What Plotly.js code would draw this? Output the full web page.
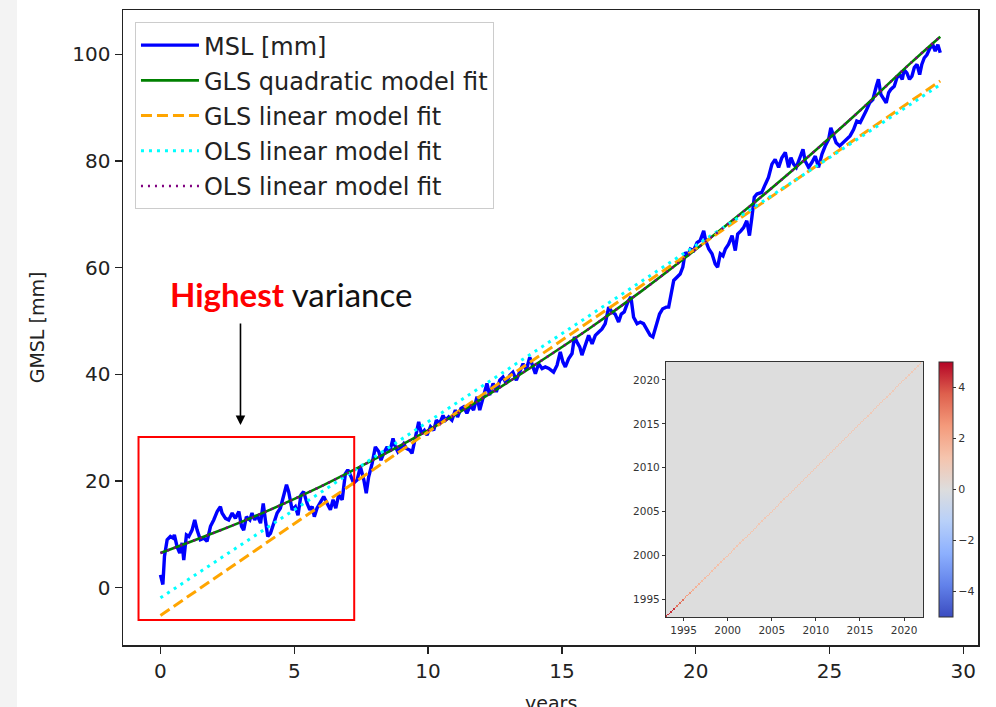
<!DOCTYPE html>
<html>
<head>
<meta charset="utf-8">
<script src="https://cdn.plot.ly/plotly-3.0.1.min.js"></script>
<style>
  html, body { margin: 0; padding: 0; background: #ffffff; }
  #wrap { position: relative; width: 996px; height: 707px; overflow: hidden; }
  #chart { position: absolute; left: 0; top: 0; width: 996px; height: 707px; }
  #strip { position: absolute; left: 0; top: 0; width: 17px; height: 707px; background: #f3f3f3; pointer-events: none; }
</style>
</head>
<body>
<div id="wrap">
  <div id="chart"></div>
  <div id="strip"></div>
</div>
<script>
// ---------- DATA ----------
const mslT = [0.00,0.09,0.15,0.25,0.37,0.47,0.52,0.62,0.72,0.81,0.87,0.97,1.06,1.18,1.28,1.37,1.49,1.62,1.74,1.87,
  1.99,2.12,2.24,2.30,2.43,2.55,2.68,2.80,2.93,3.03,3.11,3.21,3.34,3.42,3.52,3.61,3.74,3.84,3.92,4.01,
  4.11,4.23,4.36,4.48,4.61,4.71,4.79,4.92,5.04,5.14,5.25,5.35,5.48,5.58,5.67,5.75,5.85,5.98,6.10,6.23,
  6.35,6.45,6.55,6.66,6.79,6.91,7.00,7.10,
  7.22,7.35,7.47,7.60,7.69,7.78,7.91,8.03,8.16,8.24,8.34,8.47,8.57,8.69,8.78,8.87,8.97,9.09,9.19,9.31,
  9.40,9.53,9.65,9.75,9.86,9.96,10.09,10.21,10.31,10.43,10.56,10.65,10.77,10.89,11.02,11.10,11.23,11.33,11.45,11.58,
  11.70,11.83,11.93,12.05,12.20,12.30,12.43,12.55,12.68,12.80,12.92,13.05,13.17,13.30,13.42,13.55,13.67,13.80,13.92,14.01,
  14.13,14.26,14.38,14.51,
  14.69,14.82,14.94,15.04,15.13,15.25,15.38,15.47,15.57,15.67,15.75,15.88,16.00,16.13,16.25,16.37,16.50,16.62,16.75,16.87,
  16.99,17.12,17.22,17.33,17.46,17.58,17.68,17.81,17.93,18.05,18.18,18.30,18.40,18.53,18.65,18.77,18.90,18.99,19.08,19.18,
  19.30,19.42,19.52,19.61,19.70,19.80,19.92,20.05,20.17,20.30,20.37,20.49,20.61,20.73,20.82,20.92,21.02,21.11,21.23,21.36,
  21.48,21.57,21.69,21.79,21.91,22.01,22.10,22.19,22.29,
  22.47,22.60,22.72,22.85,22.97,23.10,23.22,23.35,23.47,23.56,23.66,23.76,23.88,24.01,24.09,24.22,24.34,24.47,24.59,24.72,
  24.84,24.97,25.05,25.15,25.25,25.38,25.50,25.65,25.77,25.90,26.02,26.15,26.25,26.37,26.50,26.62,26.75,26.83,26.92,27.02,
  27.12,27.21,27.29,27.42,27.52,27.62,27.72,27.79,27.89,27.99,28.08,28.17,28.27,28.37,28.45,28.54,28.64,28.76,28.86,28.95,
  29.05,29.14];

const mslMm = [2.4,0.6,5.9,9.0,9.6,9.3,9.9,7.7,6.5,8.4,5.2,9.9,9.6,10.8,12.7,10.8,9.0,9.3,8.7,11.5,
  12.7,14.3,15.2,14.0,13.0,12.7,14.0,13.0,14.3,11.5,10.8,13.3,12.7,14.0,12.7,13.6,12.1,15.8,12.7,9.6,
  10.2,12.1,14.0,14.9,17.7,19.3,18.0,14.6,15.2,13.6,17.4,18.0,15.8,14.6,15.2,13.3,14.9,16.1,17.1,15.8,
  14.6,16.5,14.9,17.4,16.5,21.4,22.1,21.1,
  19.6,20.2,22.7,20.2,17.7,20.8,23.3,26.4,25.5,23.9,25.2,26.4,25.5,28.0,26.4,25.5,26.1,27.0,26.1,25.8,
  25.2,28.3,31.1,28.9,29.5,28.6,30.2,29.5,31.4,30.8,32.3,31.4,32.0,31.4,33.3,32.0,33.6,33.9,32.7,34.2,
  33.3,35.8,33.3,35.5,38.3,36.1,38.3,36.7,38.9,39.5,38.3,39.8,40.4,38.9,40.4,42.0,40.8,43.2,41.4,40.1,
  42.0,41.1,41.4,41.1,
  40.4,41.7,44.2,42.3,41.4,42.9,43.9,47.0,46.0,45.1,43.6,45.7,47.3,45.7,47.3,47.9,48.5,49.5,52.6,51.7,
  51.3,49.8,51.3,51.7,53.5,54.5,50.7,49.5,49.8,49.5,48.2,47.3,47.0,49.5,51.3,52.3,52.6,52.6,55.1,57.6,
  58.2,58.8,60.1,62.9,62.2,63.5,63.2,64.7,65.1,66.9,65.1,63.5,62.6,60.7,60.1,62.6,62.2,63.5,64.4,66.0,
  63.2,66.3,66.9,67.5,68.8,66.0,69.4,73.2,73.8,
  74.1,75.6,76.9,79.4,80.3,78.8,80.6,81.6,78.8,80.6,79.4,78.8,80.3,82.2,80.0,78.8,79.7,80.9,78.8,81.3,
  82.8,84.1,86.2,84.7,83.4,82.8,83.4,84.1,84.7,85.9,87.5,87.2,88.1,89.4,90.9,91.5,94.0,95.3,92.5,91.8,
  90.9,92.8,93.4,94.0,95.6,96.2,95.3,97.1,96.5,95.3,95.9,97.5,98.1,96.2,98.1,99.3,99.9,101.2,101.8,100.6,
  101.8,100.3];

const quadFitT  = [0, 2, 4, 6, 8, 10, 12, 14, 16, 18, 20, 22, 24, 26, 28, 29.14];
const quadFitMm = [6.5, 10.3, 14.4, 19.0, 24.1, 29.5, 35.4, 41.8, 48.5, 55.7, 63.4, 71.4, 79.9, 88.8, 98.2, 103.3];

const linFitT      = [0, 29.14];
const glsLinearMm  = [-5.2, 95.0];
const olsLinearMm  = [-1.9, 94.3];

const seriesNames = ['MSL [mm]', 'GLS quadratic model fit', 'GLS linear model fit', 'OLS linear model fit', 'OLS linear model fit'];

const xTicks = [0, 5, 10, 15, 20, 25, 30];
const yTicks = [0, 20, 40, 60, 80, 100];

// inset: residual covariance matrix, diagonal variance per year
const covYears = [1993,1994,1995,1996,1997,1998,1999,2000,2001,2002,2003,2004,2005,2006,2007,
                  2008,2009,2010,2011,2012,2013,2014,2015,2016,2017,2018,2019,2020,2021,2022];
const covDiagVariance = [4.4,3.4,2.4,1.8,1.5,1.4,1.3,1.25,1.2,1.15,1.1,1.1,1.05,1.05,1.0,
                         1.0,1.0,1.0,1.0,1.0,1.0,1.0,1.0,1.0,1.0,1.0,1.0,1.0,1.0,1.0];
const cellsPerYear = 6;
const insetTicks = [1995, 2000, 2005, 2010, 2015, 2020];
const cbTicks = [-4, -2, 0, 2, 4];

// build covariance matrix (zero off-diagonal)
const nCells = Math.round(29.1 * cellsPerYear);
const covZ = [];
for (let i = 0; i < nCells; i++) {
  const row = new Array(nCells).fill(0);
  row[i] = covDiagVariance[Math.min(covDiagVariance.length - 1, Math.floor(i / cellsPerYear))];
  covZ.push(row);
}

const coolwarm = [
  [0.0, 'rgb(59,76,192)'], [0.125, 'rgb(98,130,234)'], [0.25, 'rgb(141,176,254)'],
  [0.375, 'rgb(184,208,249)'], [0.5, 'rgb(221,221,221)'], [0.625, 'rgb(245,196,173)'],
  [0.75, 'rgb(244,154,123)'], [0.875, 'rgb(222,96,77)'], [1.0, 'rgb(180,4,38)']
];

// ---------- TRACES ----------
const traces = [
  { x: mslT, y: mslMm, type: 'scatter', mode: 'lines', name: seriesNames[0], legendgroup: 'a',
    line: { color: '#0000ff', width: 3.4 } },
  { x: quadFitT, y: quadFitMm, type: 'scatter', mode: 'lines', name: seriesNames[1], legendgroup: 'b',
    line: { color: '#008000', width: 2.6, shape: 'spline' } },
  { x: linFitT, y: glsLinearMm, type: 'scatter', mode: 'lines', name: seriesNames[2], legendgroup: 'c',
    line: { color: '#ffa500', width: 3, dash: '11px,5px' } },
  { x: linFitT, y: olsLinearMm, type: 'scatter', mode: 'lines', name: seriesNames[3], legendgroup: 'd',
    line: { color: '#00ffff', width: 3, dash: '3px,5px' } },
  { x: quadFitT, y: quadFitMm, type: 'scatter', mode: 'lines', name: seriesNames[4], legendgroup: 'e',
    line: { color: '#800080', width: 2.4, dash: '2px,5px', shape: 'spline' } },
  { z: covZ, x0: 1993 + 1 / (2 * cellsPerYear), dx: 1 / cellsPerYear,
    y0: 1993 + 1 / (2 * cellsPerYear), dy: 1 / cellsPerYear,
    type: 'heatmap', xaxis: 'x2', yaxis: 'y2', zmin: -5, zmax: 5, colorscale: coolwarm,
    showlegend: false, hoverinfo: 'skip', zsmooth: false,
    colorbar: { x: 0.9544, xanchor: 'left', y: 0.0441, yanchor: 'bottom', len: 0.4016, lenmode: 'fraction',
      thickness: 14, thicknessmode: 'pixels', outlinecolor: '#333', outlinewidth: 1,
      tickvals: cbTicks, ticks: 'outside', ticklen: 3, tickcolor: '#333', xpad: 0, ypad: 0,
      tickfont: { family: 'DejaVu Sans', size: 11, color: '#333' } } }
];

const axisFont = { family: 'DejaVu Sans', size: 20, color: '#222' };
const titleFont = { family: 'DejaVu Sans', size: 19, color: '#222' };

const layout = {
  width: 996, height: 707,
  margin: { l: 123, r: 18, t: 10, b: 62 },
  paper_bgcolor: 'rgba(0,0,0,0)', plot_bgcolor: '#ffffff',
  showlegend: true,
  legend: { x: 0.014, y: 0.981, xanchor: 'left', yanchor: 'top',
    bgcolor: 'rgba(255,255,255,0.85)', bordercolor: '#cccccc', borderwidth: 1,
    font: { family: 'DejaVu Sans', size: 24, color: '#222' }, tracegroupgap: 1, itemwidth: 58 },
  xaxis: { domain: [0, 1], range: [-1.4, 30.55], tickvals: xTicks, ticks: 'outside', ticklen: 7, tickwidth: 1.5,
    tickcolor: '#222', showline: true, mirror: true, linecolor: '#222', linewidth: 1.5,
    showgrid: false, zeroline: false, tickfont: axisFont },
  yaxis: { domain: [0, 1], range: [-10.74, 108.3], tickvals: yTicks, ticks: 'outside', ticklen: 7, tickwidth: 1.5,
    tickcolor: '#222', showline: true, mirror: true, linecolor: '#222', linewidth: 1.5,
    showgrid: false, zeroline: false, tickfont: axisFont,
    title: { text: 'GMSL [mm]', font: titleFont, standoff: 22 } },
  xaxis2: { domain: [0.635, 0.9357], anchor: 'y2', range: [1993, 2022.15], tickvals: insetTicks,
    ticks: 'outside', ticklen: 3, tickcolor: '#333', showline: true, mirror: true, linecolor: '#333', linewidth: 1,
    showgrid: false, zeroline: false, tickfont: { family: 'DejaVu Sans', size: 10.5, color: '#333' } },
  yaxis2: { domain: [0.0441, 0.4457], anchor: 'x2', range: [1993, 2022.05], tickvals: insetTicks,
    ticks: 'outside', ticklen: 3, tickcolor: '#333', showline: true, mirror: true, linecolor: '#333', linewidth: 1,
    showgrid: false, zeroline: false, tickfont: { family: 'DejaVu Sans', size: 10.5, color: '#333' } },
  shapes: [
    { type: 'rect', xref: 'x', yref: 'y', x0: -0.82, x1: 7.24, y0: -6.05, y1: 28.25,
      line: { color: '#ff0000', width: 2 }, fillcolor: 'rgba(0,0,0,0)' }
  ],
  annotations: [
    { xref: 'paper', yref: 'paper', x: 0.5, y: -0.071, xanchor: 'center', yanchor: 'top', showarrow: false,
      text: 'years', font: titleFont },
    { xref: 'x', yref: 'y', x: 4.89, y: 55.05, showarrow: false,
      text: '<b><span style="color:#ff0000">Highest</span></b> variance',
      font: { family: 'Lato', size: 33, color: '#111' } },
    { xref: 'x', yref: 'y', axref: 'x', ayref: 'y', x: 2.99, y: 30.5, ax: 2.99, ay: 49.8,
      text: '', showarrow: true, arrowhead: 2, arrowsize: 1.2, arrowwidth: 1.6, arrowcolor: '#000' }
  ]
};

Plotly.newPlot('chart', traces, layout, { displayModeBar: false, staticPlot: true });
</script>
</body>
</html>
